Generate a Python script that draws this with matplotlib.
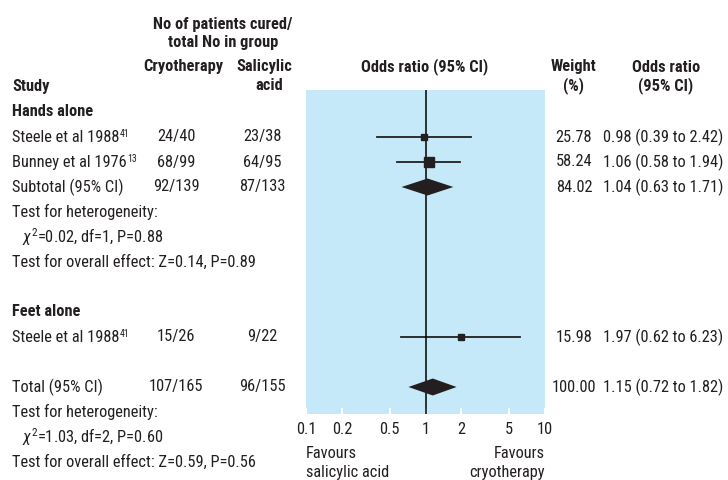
import matplotlib
matplotlib.use('Agg')
import matplotlib.pyplot as plt
from matplotlib import font_manager

# pick a condensed font if one is there
names = {f.name for f in font_manager.fontManager.ttflist}
font = 'Liberation Sans'
for cand in ['Liberation Sans Narrow', 'Roboto Condensed', 'Open Sans Condensed']:
    if cand in names:
        font = cand
        break

plt.rcParams['font.family'] = [font, 'DejaVu Sans']
plt.rcParams['mathtext.fontset'] = 'custom'
plt.rcParams['mathtext.rm'] = font
plt.rcParams['mathtext.it'] = font + ':italic'

# trial data
studies = ['Steele et al 1988', 'Bunney et al 1976', 'Steele et al 1988']
refs = ['41', '13', '41']
cryo = ['24/40', '68/99', '15/26']
salic = ['23/38', '64/95', '9/22']
weight = [25.78, 58.24, 15.98]
odds = [0.98, 1.06, 1.97]
ci_lo = [0.39, 0.58, 0.62]
ci_hi = [2.42, 1.94, 6.23]
study_rows = [1, 2, 9]

# pooled results
pooled = ['Subtotal (95% CI)', 'Total (95% CI)']
pooled_cryo = ['92/139', '107/165']
pooled_salic = ['87/133', '96/155']
pooled_weight = [84.02, 100.00]
pooled_odds = [1.04, 1.15]
pooled_lo = [0.63, 0.72]
pooled_hi = [1.71, 1.82]
pooled_rows = [3, 11]

ticks = [0.1, 0.2, 0.5, 1, 2, 5, 10]
tick_labels = ['0.1', '0.2', '0.5', '1', '2', '5', '10']

tc = '#231f20'
fs = 11.8
W, H = 728, 480


def row_y(r):
    return 112 + 25 * r


fig = plt.figure(figsize=(W / 100, H / 100), dpi=100)
bg = fig.add_axes([0, 0, 1, 1])
bg.set_xlim(0, W)
bg.set_ylim(H, 0)
bg.axis('off')

# forest panel
x0, x1, y0, y1 = 306, 545, 90, 414
ax = fig.add_axes([x0 / W, 1 - y1 / H, (x1 - x0) / W, (y1 - y0) / H])
ax.set_facecolor('#c6e9f9')
ax.set_xscale('log')
ax.set_xlim(0.1, 10)
ax.set_ylim(y1, y0)
for s in ax.spines.values():
    s.set_visible(False)
ax.set_yticks([])
ax.set_xticks(ticks)
ax.set_xticklabels(tick_labels)
ax.minorticks_off()
ax.tick_params(axis='x', direction='in', length=4, width=1.5, color='white',
               labelsize=fs, labelcolor=tc, pad=6)
ax.axvline(1, color='black', lw=1.1, zorder=3)

for o, lo, hi, w, r in zip(odds, ci_lo, ci_hi, weight, study_rows):
    y = row_y(r)
    ax.plot([lo, hi], [y, y], color=tc, lw=1.3, zorder=2)
    side = max(6.5, 1.2 * w ** 0.5)
    ax.plot(o, y, marker='s', ms=side * 0.72, color=tc, mec=tc, zorder=4)

for o, lo, hi, r in zip(pooled_odds, pooled_lo, pooled_hi, pooled_rows):
    y = row_y(r)
    ax.fill([lo, o, hi, o], [y, y - 8.5, y, y + 8.5], color=tc, lw=0, zorder=4)

# headers
bold = dict(fontsize=fs, color=tc, fontweight='bold')
bg.text(223, 24, 'No of patients cured/', ha='center', va='center', **bold)
bg.text(223, 43, 'total No in group', ha='center', va='center', **bold)
bg.text(183, 67, 'Cryotherapy', ha='center', va='center', **bold)
bg.text(264, 67, 'Salicylic', ha='center', va='center', **bold)
bg.text(269, 86, 'acid', ha='center', va='center', **bold)
bg.text(12, 87, 'Study', ha='left', va='center', **bold)
bg.text(425, 67, 'Odds ratio (95% CI)', ha='center', va='center', **bold)
bg.text(574, 67, 'Weight', ha='center', va='center', **bold)
bg.text(574, 86, '(%)', ha='center', va='center', **bold)
bg.text(666, 67, 'Odds ratio', ha='center', va='center', **bold)
bg.text(666, 86, '(95% CI)', ha='center', va='center', **bold)
bg.text(12, row_y(0), 'Hands alone', ha='left', va='center', **bold)
bg.text(12, row_y(8), 'Feet alone', ha='left', va='center', **bold)

norm = dict(fontsize=fs, color=tc, va='center')
for name, ref, c, s, w, o, lo, hi, r in zip(studies, refs, cryo, salic, weight,
                                            odds, ci_lo, ci_hi, study_rows):
    y = row_y(r)
    t = bg.text(12, y, name, ha='left', **norm)
    bg.annotate(ref, xy=(1, 1.05), xycoords=t, xytext=(0.5, 0),
                textcoords='offset points', ha='left', va='top',
                fontsize=7, color=tc)
    bg.text(176, y, c, ha='center', **norm)
    bg.text(262, y, s, ha='center', **norm)
    bg.text(574, y, f'{w:.2f}', ha='center', **norm)
    bg.text(603, y, f'{o:.2f} ({lo:.2f} to {hi:.2f})', ha='left', **norm)

for name, c, s, w, o, lo, hi, r in zip(pooled, pooled_cryo, pooled_salic,
                                       pooled_weight, pooled_odds, pooled_lo,
                                       pooled_hi, pooled_rows):
    y = row_y(r)
    bg.text(12, y, name, ha='left', **norm)
    bg.text(176, y, c, ha='center', **norm)
    bg.text(262, y, s, ha='center', **norm)
    bg.text(574, y, f'{w:.2f}', ha='center', **norm)
    bg.text(603, y, f'{o:.2f} ({lo:.2f} to {hi:.2f})', ha='left', **norm)

# test statistics
bg.text(12, row_y(4), 'Test for heterogeneity:', ha='left', **norm)
bg.text(22, row_y(5), r'$\chi^2$=0.02, df=1, P=0.88', ha='left', **norm)
bg.text(12, row_y(6), 'Test for overall effect: Z=0.14, P=0.89', ha='left', **norm)
bg.text(12, row_y(12), 'Test for heterogeneity:', ha='left', **norm)
bg.text(22, row_y(13), r'$\chi^2$=1.03, df=2, P=0.60', ha='left', **norm)
bg.text(12, row_y(14), 'Test for overall effect: Z=0.59, P=0.56', ha='left', **norm)

# favours labels
bg.text(306, 453, 'Favours', ha='left', **norm)
bg.text(306, 472, 'salicylic acid', ha='left', **norm)
bg.text(545, 453, 'Favours', ha='right', **norm)
bg.text(545, 472, 'cryotherapy', ha='right', **norm)

fig.savefig('out.png', dpi=100)
